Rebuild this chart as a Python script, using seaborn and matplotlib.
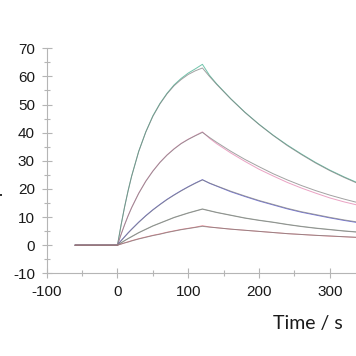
import numpy as np
import pandas as pd
import matplotlib
matplotlib.use("Agg")
import matplotlib.pyplot as plt
from matplotlib.ticker import MultipleLocator
import seaborn as sns

# ---- data ----
time = [-60, 0, 5, 10, 15, 20, 30, 40, 50, 60, 70, 80, 90, 100, 110, 120,
        130, 140, 160, 180, 200, 220, 240, 260, 280, 300, 320, 340]

fit_1 = [0, 0, 7.0, 13.5, 19.3, 24.5, 33.3, 40.2, 45.8, 50.2, 53.8, 56.7, 58.9, 60.7, 62.0, 63.0,
         60.0, 57.2, 52.0, 47.2, 42.9, 39.0, 35.4, 32.2, 29.2, 26.5, 24.1, 21.9]
data_1 = [0, 0, 7.1, 13.6, 19.4, 24.6, 33.4, 40.3, 46.0, 50.4, 54.0, 57.0, 59.3, 61.2, 62.7, 64.3,
          60.4, 57.4, 52.1, 47.3, 43.0, 39.1, 35.6, 32.4, 29.4, 26.7, 24.3, 22.1]

fit_2 = [0, 0, 3.75, 7.2, 10.4, 13.3, 18.4, 22.7, 26.3, 29.4, 32.0, 34.2, 36.1, 37.6, 38.9, 40.1,
         38.3, 36.6, 33.4, 30.5, 27.9, 25.4, 23.2, 21.2, 19.4, 17.8, 16.4, 15.1]
data_2 = [0, 0, 3.8, 7.3, 10.5, 13.4, 18.5, 22.8, 26.4, 29.5, 32.1, 34.3, 36.2, 37.7, 39.0, 40.3,
          38.0, 36.1, 32.8, 29.8, 27.0, 24.6, 22.3, 20.3, 18.5, 16.8, 15.4, 14.2]

fit_3 = [0, 0, 1.5, 2.9, 4.3, 5.6, 8.1, 10.4, 12.5, 14.4, 16.2, 17.8, 19.3, 20.7, 22.0, 23.2,
         22.1, 21.1, 19.2, 17.5, 15.9, 14.5, 13.1, 11.9, 10.9, 9.9, 9.0, 8.2]
data_3 = [0, 0, 1.6, 3.0, 4.4, 5.7, 8.2, 10.5, 12.6, 14.5, 16.3, 17.9, 19.4, 20.8, 22.1, 23.3,
          22.0, 21.0, 19.0, 17.3, 15.7, 14.3, 12.9, 11.7, 10.7, 9.7, 8.8, 8.0]

fit_4 = [0, 0, 0.8, 1.6, 2.3, 3.0, 4.4, 5.6, 6.8, 7.8, 8.8, 9.8, 10.6, 11.4, 12.1, 12.8,
         12.2, 11.6, 10.6, 9.6, 8.8, 8.1, 7.3, 6.6, 6.0, 5.5, 5.0, 4.6]
data_4 = [0, 0, 0.8, 1.6, 2.4, 3.1, 4.5, 5.7, 6.9, 7.9, 8.9, 9.9, 10.7, 11.5, 12.2, 12.9,
          12.3, 11.7, 10.7, 9.7, 8.9, 8.2, 7.4, 6.7, 6.1, 5.6, 5.1, 4.7]

fit_5 = [0, 0, 0.4, 0.8, 1.1, 1.5, 2.2, 2.8, 3.4, 3.9, 4.5, 5.0, 5.5, 5.9, 6.3, 6.7,
         6.4, 6.2, 5.7, 5.3, 4.9, 4.5, 4.1, 3.8, 3.5, 3.3, 3.0, 2.8]
data_5 = [0, 0, 0.4, 0.8, 1.2, 1.6, 2.3, 2.9, 3.5, 4.0, 4.6, 5.1, 5.6, 6.0, 6.4, 6.9,
          6.5, 6.2, 5.7, 5.3, 4.9, 4.5, 4.1, 3.8, 3.5, 3.2, 3.0, 2.7]

data_series = [data_1, data_2, data_3, data_4, data_5]
fit_series = [fit_1, fit_2, fit_3, fit_4, fit_5]
data_colors = ["#4db596", "#e58ab4", "#5a5ad6", "#97a597", "#e36f7c"]
fit_color = "#7a7a7a"

x_ticks = [-100, 0, 100, 200, 300]
y_ticks = [-10, 0, 10, 20, 30, 40, 50, 60, 70]
x_label = "Time / s"
y_label = "Response / RU"

# ---- plotting ----
sns.set_theme(style="white")
plt.rcParams["font.family"] = ["Liberation Sans", "DejaVu Sans"]
plt.rcParams["axes.unicode_minus"] = False

fig = plt.figure(figsize=(3.56, 3.56), dpi=100)
ax = fig.add_axes([46.7 / 356, (356 - 273.3) / 356, (356 - 46.7) / 356, 225 / 356])

for d, f, c in zip(data_series, fit_series, data_colors):
    sns.lineplot(x=time, y=d, color=c, lw=0.7, ax=ax, alpha=0.8)
    sns.lineplot(x=time, y=f, color=fit_color, lw=0.7, ax=ax, alpha=0.7)

ax.set_xlim(-100, 337)
ax.set_ylim(-10, 70)
ax.set_xticks(x_ticks)
ax.set_yticks(y_ticks)
ax.xaxis.set_minor_locator(MultipleLocator(50))
ax.yaxis.set_minor_locator(MultipleLocator(5))
for s in ["top", "right"]:
    ax.spines[s].set_visible(False)
for s in ["left", "bottom"]:
    ax.spines[s].set_color("#b5b5b5")
    ax.spines[s].set_linewidth(0.8)
ax.tick_params(which="major", direction="inout", length=7, width=0.8, color="#b5b5b5",
               labelsize=11, labelcolor="#1a1a1a", pad=5)
ax.tick_params(which="minor", direction="inout", length=4, width=0.8, color="#b5b5b5")
ax.tick_params(axis="x", which="both", bottom=True)
ax.tick_params(axis="y", which="both", left=True)
ax.set_xlabel("")
ax.set_ylabel("")

fig.text(272.7 / 356, (356 - 329) / 356, x_label, family=["Lato", "DejaVu Sans"],
         fontsize=14, color="#1a1a1a", ha="left", va="baseline")
fig.text(3 / 356, 0.542, y_label, family=["Lato", "DejaVu Sans"], fontsize=14,
         color="#1a1a1a", rotation=90, ha="right", va="center")

fig.savefig("out.png", dpi=100)
